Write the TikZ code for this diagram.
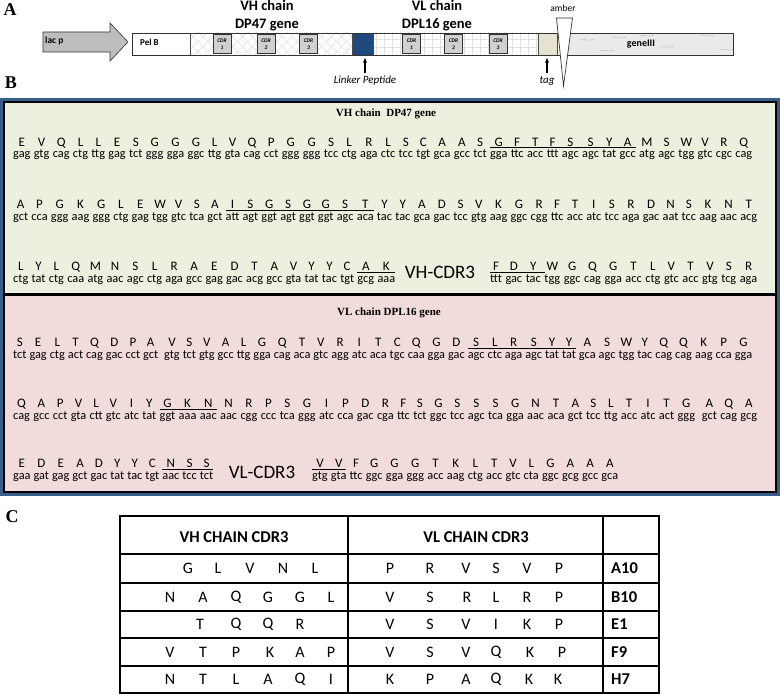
\documentclass[tikz,border=0pt]{standalone}
\usepackage{fontspec}
\setmainfont{Carlito}
\newfontfamily\tnr{Liberation Serif}
\usetikzlibrary{patterns.meta,arrows.meta}
\definecolor{greenbg}{HTML}{EBF1DE}
\definecolor{pinkbg}{HTML}{F2DCDB}
\definecolor{bordblue}{HTML}{385D8A}
\definecolor{linkblue}{HTML}{1F497D}
\definecolor{tagbeige}{HTML}{E6E2D0}
\definecolor{cdrgray}{HTML}{D0D0D0}
\definecolor{lacgray}{HTML}{BDBDBD}
\definecolor{geneg}{HTML}{EAEAEA}
\newlength\codw
\newcommand\aaup{11.6pt}
\newcommand\ulup{9.9pt}
\newcommand\aaf{\fontsize{13}{14}\selectfont}
\newcommand\cod[2]{\settowidth{\codw}{#2}\rlap{\raisebox{\aaup}{\makebox[\codw][c]{\aaf #1}}}#2}
\newcommand\ucod[2]{\settowidth{\codw}{#2}\rlap{\raisebox{\aaup}{\makebox[\codw][c]{\aaf #1}}}\rlap{\rule[\ulup]{\dimexpr\codw+1.5\fontdimen2\font\relax}{0.6pt}}#2}
\newcommand\ucodl[2]{\settowidth{\codw}{#2}\rlap{\raisebox{\aaup}{\makebox[\codw][c]{\aaf #1}}}\rlap{\rule[\ulup]{\codw}{0.6pt}}#2}
\newcommand\seqline[2]{\makebox[#1pt][s]{#2}}
\tikzset{
  seq/.style={anchor=base west, inner sep=0pt, font=\fontsize{12.3}{14}\selectfont},
  ttl/.style={font=\tnr\bfseries\fontsize{11}{13}\selectfont, inner sep=0pt},
  panel/.style={font=\tnr\bfseries\fontsize{18}{18}\selectfont, inner sep=0pt},
  seg/.style={draw=black!70, line width=0.5pt},
  cdr/.style={draw=black!80, fill=cdrgray, line width=0.6pt, minimum width=18pt, minimum height=19pt,
     font=\bfseries\itshape\fontsize{5.5}{6.5}\selectfont, align=center, inner sep=0pt},
  gname/.style={font=\bfseries\fontsize{14.5}{18}\selectfont, align=center, inner sep=0pt},
  small/.style={font=\itshape\fontsize{11}{12}\selectfont, inner sep=0pt},
  cdrlbl/.style={font=\fontsize{19}{20}\selectfont, inner sep=0pt},
  tl/.style={font=\fontsize{16}{17}\selectfont, inner sep=0pt},
  th/.style={font=\bfseries\fontsize{16.5}{17}\selectfont, inner sep=0pt},
  upar/.style={-{Stealth[length=5pt,width=4pt]}, line width=1.2pt},
  vhpat/.style={preaction={fill=white}, pattern={Hatch[angle=45,distance=7pt,line width=0.4pt]}, pattern color=black!15},
  vlpat/.style={preaction={fill=white}, pattern={Hatch[angle=0,distance=8pt,line width=0.4pt]}, pattern color=black!12},
}
\begin{document}
\begin{tikzpicture}[x=1pt,y=-1pt]
\useasboundingbox (0,0) rectangle (780,695);
% ---------------- A ----------------
\node[panel] (pA) at (10,10) {A};
\path[draw=black!80, fill=lacgray, line width=0.6pt] (43,32) -- (110,32) -- (110,23) -- (128,42) -- (110,61) -- (110,52) -- (43,52) -- cycle;
\node[font=\bfseries\fontsize{9.5}{10}\selectfont, anchor=west, inner sep=0pt] (lacp) at (45,41) {lac p};
% bar segments
\fill[white] (132,33) rectangle (190,55);
\path[seg, vhpat] (190,33) rectangle (352,55);
\path[seg, fill=linkblue] (352,33) rectangle (373,55);
\path[seg, vlpat] (373,33) rectangle (538,55);
\path[seg, fill=tagbeige] (538,33) rectangle (557,55);
\path[seg, fill=geneg] (567,33) rectangle (733,55);
\foreach \a/\b in {580/40,612/38,660/47,700/36,720/50,600/51,640/36}
  \draw[black!25, line width=0.5pt] (\a,\b) .. controls (\a+5,\b-2) and (\a+8,\b+2) .. (\a+14,\b-1);
\draw[black!80, line width=0.7pt] (132,33) rectangle (733,55);
\draw[seg] (190,33) -- (190,55);
\node[font=\bfseries\fontsize{9}{10}\selectfont, anchor=west, inner sep=0pt] (pelb) at (140,42) {Pel B};
\node[cdr] (h1) at (222,44) {CDR\\1};
\node[cdr] (h2) at (266,44) {CDR\\2};
\node[cdr] (h3) at (308.5,44) {CDR\\3};
\node[cdr] (l1) at (411.5,44) {CDR\\1};
\node[cdr] (l2) at (453.5,44) {CDR\\2};
\node[cdr] (l3) at (498,44) {CDR\\3};
\node[font=\bfseries\fontsize{10}{11}\selectfont, inner sep=0pt] (g3) at (641,44) {geneIII};
\draw[black!80, line width=0.7pt, fill=white] (556.5,18) -- (572.5,18) -- (563.5,86) -- cycle;
\node[font=\fontsize{9.5}{10}\selectfont, inner sep=0pt] (amber) at (563,8) {amber};
\node[gname] (vhname) at (267,16) {VH chain\\DP47 gene};
\node[gname] (vlname) at (437,16) {VL chain\\DPL16 gene};
\node[small] (linker) at (365,81) {Linker Peptide};
\coordinate (linkpt) at (365,58);
\draw[upar] (linker.north) ++(0,-3) -- (linkpt);
\node[small] (tag) at (547,81) {tag};
\coordinate (tagpt) at (547,58);
\draw[upar] (tag.north) ++(0,-3) -- (tagpt);
% ---------------- B ----------------
\node[panel] (pB) at (11,83) {B};
\fill[greenbg] (3,101) rectangle (777,294);
\fill[pinkbg] (3,296) rectangle (777,493);
\draw[black, line width=3pt] (3,295) -- (777,295);
\draw[bordblue, line width=3pt] (1.5,99.5) rectangle (778.5,494.5);
\draw[black, line width=1.5pt] (4,102) rectangle (776,492);
\node[ttl] (vhttl) at (386,114) {VH chain\ \ DP47 gene};
\node[ttl] (vlttl) at (389,312.5) {VL chain DPL16 gene};
\node[seq] (vh1) at (13,158) {\seqline{739}{\cod{E}{gag} \cod{V}{gtg} \cod{Q}{cag} \cod{L}{ctg} \cod{L}{ttg} \cod{E}{gag} \cod{S}{tct} \cod{G}{ggg} \cod{G}{gga} \cod{G}{ggc} \cod{L}{ttg} \cod{V}{gta} \cod{Q}{cag} \cod{P}{cct} \cod{G}{ggg} \cod{G}{ggg} \cod{S}{tcc} \cod{L}{ctg} \cod{R}{aga} \cod{L}{ctc} \cod{S}{tcc} \cod{C}{tgt} \cod{A}{gca} \cod{A}{gcc} \cod{S}{tct} \ucod{G}{gga} \ucod{F}{ttc} \ucod{T}{acc} \ucod{F}{ttt} \ucod{S}{agc} \ucod{S}{agc} \ucod{Y}{tat} \ucodl{A}{gcc} \cod{M}{atg} \cod{S}{agc} \cod{W}{tgg} \cod{V}{gtc} \cod{R}{cgc} \cod{Q}{cag}}};
\node[seq] (vh2) at (13,220.5) {\seqline{744}{\cod{A}{gct} \cod{P}{cca} \cod{G}{ggg} \cod{K}{aag} \cod{G}{ggg} \cod{L}{ctg} \cod{E}{gag} \cod{W}{tgg} \cod{V}{gtc} \cod{S}{tca} \cod{A}{gct} \ucod{I}{att} \ucod{S}{agt} \ucod{G}{ggt} \ucod{S}{agt} \ucod{G}{ggt} \ucod{G}{ggt} \ucod{S}{agc} \ucodl{T}{aca} \cod{Y}{tac} \cod{Y}{tac} \cod{A}{gca} \cod{D}{gac} \cod{S}{tcc} \cod{V}{gtg} \cod{K}{aag} \cod{G}{ggc} \cod{R}{cgg} \cod{F}{ttc} \cod{T}{acc} \cod{I}{atc} \cod{S}{tcc} \cod{R}{aga} \cod{D}{gac} \cod{N}{aat} \cod{S}{tcc} \cod{K}{aag} \cod{N}{aac} \cod{T}{acg}}};
\node[seq] (vh3a) at (13,282.5) {\seqline{382}{\cod{L}{ctg} \cod{Y}{tat} \cod{L}{ctg} \cod{Q}{caa} \cod{M}{atg} \cod{N}{aac} \cod{S}{agc} \cod{L}{ctg} \cod{R}{aga} \cod{A}{gcc} \cod{E}{gag} \cod{D}{gac} \cod{T}{acg} \cod{A}{gcc} \cod{V}{gta} \cod{Y}{tat} \cod{Y}{tac} \cod{C}{tgt} \ucod{A}{gcg} \ucodl{K}{aaa}}};
\node[cdrlbl] (vhcdr3) at (440,272) {VH-CDR3};
\node[seq] (vh3b) at (490,282.5) {\seqline{267}{\ucod{F}{ttt} \ucod{D}{gac} \ucod{Y}{tac} \cod{W}{tgg} \cod{G}{ggc} \cod{Q}{cag} \cod{G}{gga} \cod{T}{acc} \cod{L}{ctg} \cod{V}{gtc} \cod{T}{acc} \cod{V}{gtg} \cod{S}{tcg} \cod{R}{aga}}};
\node[seq] (vl1) at (13,358.5) {\seqline{739}{\cod{S}{tct} \cod{E}{gag} \cod{L}{ctg} \cod{T}{act} \cod{Q}{cag} \cod{D}{gac} \cod{P}{cct} \cod{A}{gct}\ \ \cod{V}{gtg} \cod{S}{tct} \cod{V}{gtg} \cod{A}{gcc} \cod{L}{ttg} \cod{G}{gga} \cod{Q}{cag} \cod{T}{aca} \cod{V}{gtc} \cod{R}{agg} \cod{I}{atc} \cod{T}{aca} \cod{C}{tgc} \cod{Q}{caa} \cod{G}{gga} \cod{D}{gac} \ucod{S}{agc} \ucod{L}{ctc} \ucod{R}{aga} \ucod{S}{agc} \ucod{Y}{tat} \ucodl{Y}{tat} \cod{A}{gca} \cod{S}{agc} \cod{W}{tgg} \cod{Y}{tac} \cod{Q}{cag} \cod{Q}{cag} \cod{K}{aag} \cod{P}{cca} \cod{G}{gga}}};
\node[seq] (vl2) at (13,419.5) {\seqline{744}{\cod{Q}{cag} \cod{A}{gcc} \cod{P}{cct} \cod{V}{gta} \cod{L}{ctt} \cod{V}{gtc} \cod{I}{atc} \cod{Y}{tat} \ucod{G}{ggt} \ucod{K}{aaa} \ucodl{N}{aac} \cod{N}{aac} \cod{R}{cgg} \cod{P}{ccc} \cod{S}{tca} \cod{G}{ggg} \cod{I}{atc} \cod{P}{cca} \cod{D}{gac} \cod{R}{cga} \cod{F}{ttc} \cod{S}{tct} \cod{G}{ggc} \cod{S}{tcc} \cod{S}{agc} \cod{S}{tca} \cod{G}{gga} \cod{N}{aac} \cod{T}{aca} \cod{A}{gct} \cod{S}{tcc} \cod{L}{ttg} \cod{T}{acc} \cod{I}{atc} \cod{T}{act} \cod{G}{ggg}\ \ \cod{A}{gct} \cod{Q}{cag} \cod{A}{gcg}}};
\node[seq] (vl3a) at (13,479.5) {\seqline{200}{\cod{E}{gaa} \cod{D}{gat} \cod{E}{gag} \cod{A}{gct} \cod{D}{gac} \cod{Y}{tat} \cod{Y}{tac} \cod{C}{tgt} \ucod{N}{aac} \ucod{S}{tcc} \ucodl{S}{tct}}};
\node[cdrlbl] (vlcdr3) at (262,472) {VL-CDR3};
\node[seq] (vl3b) at (312,479.5) {\seqline{306}{\ucod{V}{gtg} \ucodl{V}{gta} \cod{F}{ttc} \cod{G}{ggc} \cod{G}{gga} \cod{G}{ggg} \cod{T}{acc} \cod{K}{aag} \cod{L}{ctg} \cod{T}{acc} \cod{V}{gtc} \cod{L}{cta} \cod{G}{ggc} \cod{A}{gcg} \cod{A}{gcc} \cod{A}{gca}}};
% ---------------- C ----------------
\node[panel] (pC) at (12,517) {C};
\foreach \y in {554,583,611,638,666} \draw[black, line width=1.3pt] (120,\y) -- (659,\y);
\draw[black, line width=1.3pt] (348,516) -- (348,693);
\draw[black, line width=1.3pt] (603,516) -- (603,693);
\draw[black, line width=2pt] (120,516) rectangle (659,693);
\node[th] (hvh) at (234,537) {VH CHAIN CDR3};
\node[th] (hvl) at (476,537) {VL CHAIN CDR3};
\foreach \l/\x [count=\i] in {G/188,L/218,V/250,N/283,L/315} \node[tl] (a\i) at (\x,568.5) {\l};
\foreach \l/\x [count=\i] in {N/170,A/203,Q/236,G/268,G/300,L/331} \node[tl] (b\i) at (\x,597) {\l};
\foreach \l/\x [count=\i] in {T/200,Q/236,Q/268,R/300} \node[tl] (e\i) at (\x,624.5) {\l};
\foreach \l/\x [count=\i] in {V/170,T/203,P/236,K/270,A/300,P/331} \node[tl] (f\i) at (\x,652) {\l};
\foreach \l/\x [count=\i] in {N/170,T/203,L/236,A/268,Q/300,I/331} \node[tl] (h\i) at (\x,679.5) {\l};
\foreach \l/\x [count=\i] in {P/390,R/430,V/466,S/496,V/527,P/559} \node[tl] (ra\i) at (\x,568.5) {\l};
\foreach \l/\x [count=\i] in {V/390,S/430,R/467,L/496,R/527,P/559} \node[tl] (rb\i) at (\x,597) {\l};
\foreach \l/\x [count=\i] in {V/390,S/430,V/466,I/496,K/527,P/559} \node[tl] (re\i) at (\x,624.5) {\l};
\foreach \l/\x [count=\i] in {V/390,S/430,V/466,Q/496,K/530,P/562} \node[tl] (rf\i) at (\x,652) {\l};
\foreach \l/\x [count=\i] in {K/390,P/430,A/466,Q/496,K/529,K/558} \node[tl] (rh\i) at (\x,679.5) {\l};
\foreach \l/\y [count=\i] in {A10/568.5,B10/597,E1/624.5,F9/652,H7/679.5} \node[th, anchor=west] (id\i) at (611,\y) {\l};
\end{tikzpicture}
\end{document}
